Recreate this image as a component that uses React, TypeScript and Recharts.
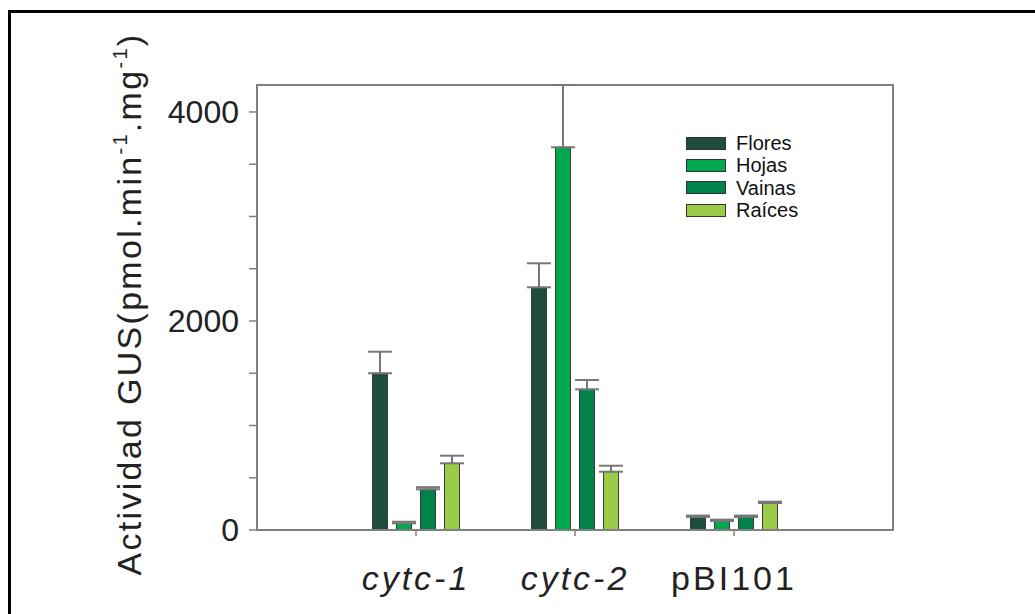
import React from 'react';
import { BarChart, Bar, XAxis, YAxis, Legend, ErrorBar, ReferenceArea } from 'recharts';

// valores
const categories = ['cytc-1', 'cytc-2', 'pBI101'];
const italicCats = ['cytc-1', 'cytc-2'];
const flores = [1500, 2322, 125];
const floresErr = [206, 230, 13];
const hojas = [64, 3662, 86];
const hojasErr = [15, 596, 13];
const vainas = [390, 1346, 125];
const vainasErr = [20, 89, 13];
const raices = [638, 558, 258];
const raicesErr = [73, 57, 13];
const yTicks = [0, 500, 1000, 1500, 2000, 2500, 3000, 3500, 4000];
const yLabeled = [0, 2000, 4000];
const yMax = 4258;
// posiciones de las categorías en el eje x (0..4)
const xPos = [1, 2, 3];
const xDomain = [0, 4];

const series = [
  { key: 'flores', name: 'Flores', color: '#1f4d3d' },
  { key: 'hojas', name: 'Hojas', color: '#00a84f' },
  { key: 'vainas', name: 'Vainas', color: '#00834a' },
  { key: 'raices', name: 'Raíces', color: '#9bcc48' },
];

const data = categories.map((name, i) => ({
  name,
  pos: xPos[i],
  flores: flores[i],
  floresErr: [0, floresErr[i]],
  hojas: hojas[i],
  hojasErr: [0, hojasErr[i]],
  vainas: vainas[i],
  vainasErr: [0, vainasErr[i]],
  raices: raices[i],
  raicesErr: [0, raicesErr[i]],
}));

const FONT = '"Liberation Sans", Arial, sans-serif';
const AXIS = '#808080';

const XTick = ({ x, y, payload }: any) => {
  const label = categories[xPos.indexOf(payload.value)] ?? '';
  return (
    <text
      x={x}
      y={y + 52}
      textAnchor="middle"
      fontSize={34}
      fontFamily={FONT}
      fontStyle={italicCats.includes(label) ? 'italic' : 'normal'}
      letterSpacing={3}
      fill="#222"
    >
      {label}
    </text>
  );
};

const YTitle = () => (
  <text
    transform="translate(141,304) rotate(-90)"
    textAnchor="middle"
    fontSize={34}
    fontFamily={FONT}
    letterSpacing={2.3}
    fill="#222"
  >
    Actividad GUS(pmol.min
    <tspan fontSize={20} dy={-14}>-1</tspan>
    <tspan dy={14}>.mg</tspan>
    <tspan fontSize={20} dy={-14}>-1</tspan>
    <tspan dy={14}>)</tspan>
  </text>
);

const renderLegend = () => (
  <div style={{ fontFamily: FONT }}>
    {series.map((s) => (
      <div key={s.key} style={{ display: 'flex', alignItems: 'center', height: 22.3 }}>
        <div style={{ width: 38, height: 11, background: s.color, border: '1px solid #333' }} />
        <span style={{ marginLeft: 10, fontSize: 20, color: '#111', lineHeight: '20px' }}>{s.name}</span>
      </div>
    ))}
  </div>
);

export default function App() {
  return (
    <div style={{ position: 'fixed', left: 0, top: 0, width: 1035, height: 614, overflow: 'hidden', background: '#fff' }}>
      <div
        style={{
          position: 'absolute',
          left: 8,
          top: 10,
          width: 1100,
          height: 700,
          border: '3px solid #000',
        }}
      />
      <div style={{ position: 'absolute', left: 0, top: 0 }}>
        <BarChart
          width={1035}
          height={614}
          data={data}
          margin={{ top: 85, right: 142, bottom: 0, left: 0 }}
          barSize={15}
          barGap={9}
        >
          <XAxis
            dataKey="pos"
            type="number"
            domain={xDomain}
            ticks={xPos}
            interval={0}
            height={84}
            axisLine={{ stroke: AXIS, strokeWidth: 2 }}
            tickLine={{ stroke: AXIS, strokeWidth: 1.5 }}
            tickSize={6}
            tickMargin={2}
            tick={<XTick />}
          />
          <YAxis
            width={257}
            domain={[0, yMax]}
            allowDataOverflow
            ticks={yTicks}
            interval={0}
            tickFormatter={(v: number) => (yLabeled.includes(v) ? String(v) : '')}
            axisLine={{ stroke: AXIS, strokeWidth: 2 }}
            tickLine={{ stroke: AXIS, strokeWidth: 1.5 }}
            tickSize={8}
            tickMargin={10}
            tick={{ fill: '#222', fontSize: 32, fontFamily: FONT }}
            label={<YTitle />}
          />
          <Legend
            content={renderLegend}
            layout="vertical"
            align="center"
            verticalAlign="middle"
            wrapperStyle={{ position: 'absolute', left: 686, top: 132, width: 140 }}
          />
          {series.map((s) => (
            <Bar
              key={s.key}
              dataKey={s.key}
              name={s.name}
              fill={s.color}
              stroke="#3a3a3a"
              strokeWidth={1}
              isAnimationActive={false}
            >
              <ErrorBar
                dataKey={`${s.key}Err`}
                width={12}
                stroke="#777"
                strokeWidth={2}
                direction="y"
                isAnimationActive={false}
              />
            </Bar>
          ))}
          <ReferenceArea
            y1={0}
            y2={yMax}
            fill="none"
            fillOpacity={0}
            stroke={AXIS}
            strokeWidth={2}
            ifOverflow="visible"
          />
        </BarChart>
      </div>
    </div>
  );
}
